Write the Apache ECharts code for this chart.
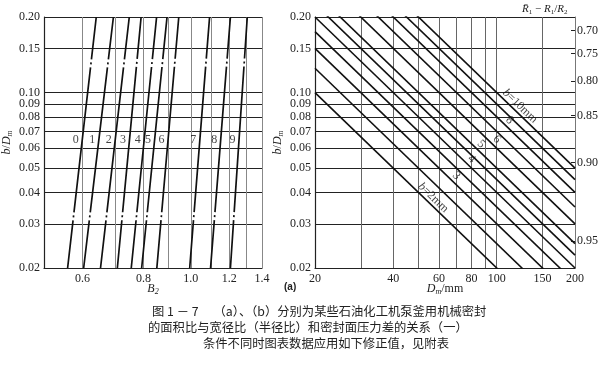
<!DOCTYPE html>
<html><head><meta charset="utf-8">
<script src="https://cdn.jsdelivr.net/npm/echarts@6/dist/echarts.min.js"></script>
<style>html,body{margin:0;padding:0;background:#fff}#c{width:605px;height:372px}</style>
</head><body><div id="c"></div>
<script>
// ---------- data: left panel (B2 vs b/Dm) ----------
const yTicks = [0.02, 0.03, 0.04, 0.05, 0.06, 0.07, 0.08, 0.09, 0.10, 0.15, 0.20];
const leftXLabels = [0.6, 0.8, 1.0, 1.2, 1.4];
const leftXGrid = [0.5, 0.6, 0.7, 0.8, 0.9, 1.0, 1.1, 1.2, 1.3, 1.4];
const curveNames = ['0', '1', '2', '3', '4', '5', '6', '7', '8', '9'];
const curveB2AtLow = [0.559, 0.603, 0.653, 0.707, 0.755, 0.793, 0.852, 0.995, 1.098, 1.206];  // B2 at b/Dm = 0.02
const curveB2AtHigh = [0.640, 0.694, 0.748, 0.791, 0.851, 0.894, 0.945, 1.093, 1.206, 1.306]; // B2 at b/Dm = 0.20
const curveLabelLevel = 0.0647;

// ---------- data: right panel (Dm vs b/Dm) ----------
const rightXLabels = [20, 40, 60, 80, 100, 150, 200];
const rightXGrid = [20, 30, 40, 50, 60, 70, 80, 90, 100, 150, 200];
const widthsB = [2, 2.5, 3, 3.5, 4, 4.5, 5, 6, 7, 8, 9, 10];
const labelledB = [2, 3, 4, 5, 6, 8, 10];
const labelTexts = ['{i|b}=2mm', '3', '4', '5', '6', '8', '{i|b}=10mm'];
const labelDm = [57, 70, 80, 87, 100, 112, 123];
const ratioTicks = [0.70, 0.75, 0.80, 0.85, 0.90, 0.95];

// ---------- caption ----------
const captionLines = [
  '图 1 － 7　 （a）、（b）分别为某些石油化工机泵釜用机械密封',
  '的面积比与宽径比（半径比）和密封面压力差的关系（一）',
  '条件不同时图表数据应用如下修正值，见附表'
];

// ---------- build ----------
const SERIF = 'Liberation Serif';
const LIFT = 1.086;
const ratioToBD = r => (1 - r) / (1 + r);
const ratioValues = ratioTicks.map(ratioToBD);

const series = [];
curveNames.forEach((n, i) => {
  series.push({
    type: 'line', xAxisIndex: 0, yAxisIndex: 0, symbol: 'none', silent: true,
    data: [[curveB2AtLow[i], 0.02], [curveB2AtHigh[i], 0.20]],
    lineStyle: { color: '#111', width: 1.7, type: [146, 3, 2, 3], dashOffset: 98 }
  });
});
const t = Math.log10(curveLabelLevel / 0.02);
series.push({
  type: 'scatter', xAxisIndex: 0, yAxisIndex: 0, symbolSize: 1, silent: true,
  itemStyle: { color: 'transparent' },
  data: curveNames.map((n, i) => {
    const lx = Math.log10(curveB2AtLow[i]) + t * (Math.log10(curveB2AtHigh[i]) - Math.log10(curveB2AtLow[i]));
    return { value: [Math.pow(10, lx), curveLabelLevel], name: n };
  }),
  label: { show: true, position: 'left', distance: 3, formatter: p => p.name,
    fontFamily: SERIF, fontSize: 12, color: '#111' }
});
widthsB.forEach(b => {
  series.push({
    type: 'line', xAxisIndex: 1, yAxisIndex: 1, symbol: 'none', silent: true,
    data: [[20, b / 20], [200, b / 200]],
    lineStyle: { color: '#111', width: 1.6 }
  });
});
series.push({
  type: 'scatter', xAxisIndex: 1, yAxisIndex: 1, symbolSize: 1, silent: true,
  itemStyle: { color: 'transparent' },
  data: labelledB.map((b, i) => ({ value: [labelDm[i], b / labelDm[i] * LIFT], name: labelTexts[i] })),
  label: { show: true, position: 'inside', rotate: -44, formatter: p => p.name,
    fontFamily: SERIF, fontSize: 12, color: '#111',
    rich: { i: { fontFamily: SERIF, fontSize: 12, fontStyle: 'italic', color: '#111' } } }
});

const axisLabelStyle = { fontFamily: SERIF, fontSize: 12, color: '#222' };
const nameRich = {
  i: { fontFamily: SERIF, fontSize: 12, fontStyle: 'italic', color: '#222' },
  n: { fontFamily: SERIF, fontSize: 12, color: '#222' },
  s: { fontFamily: SERIF, fontSize: 8, fontStyle: 'italic', color: '#222', verticalAlign: 'bottom', padding: [6, 0, 0, 0] }
};

const option = {
  backgroundColor: '#fff',
  animation: false,
  grid: [
    { left: 42, top: 17, width: 220, height: 251 },
    { left: 315, top: 17, width: 260, height: 251 }
  ],
  xAxis: [
    { gridIndex: 0, type: 'log', min: 0.5, max: 1.4,
      axisLine: { show: true, lineStyle: { color: '#222', width: 1.2 } },
      axisTick: { show: false, customValues: leftXGrid },
      axisLabel: Object.assign({ customValues: leftXLabels, margin: 5, formatter: v => v.toFixed(1) }, axisLabelStyle),
      splitLine: { show: true, lineStyle: { color: '#888', width: 1 } },
      name: '{i|B}{s|2}', nameLocation: 'middle', nameGap: 14, nameMoveOverlap: false,
      nameTextStyle: { rich: nameRich } },
    { gridIndex: 1, type: 'log', min: 20, max: 200,
      axisLine: { show: true, lineStyle: { color: '#222', width: 1.2 } },
      axisTick: { show: false, customValues: rightXGrid },
      axisLabel: Object.assign({ customValues: rightXLabels, margin: 5 }, axisLabelStyle),
      splitLine: { show: true, lineStyle: { color: '#666', width: 1 } },
      name: '{i|D}{s|m}{n|/mm}', nameLocation: 'middle', nameGap: 14, nameMoveOverlap: false,
      nameTextStyle: { rich: nameRich } }
  ],
  yAxis: [
    { gridIndex: 0, type: 'log', min: 0.02, max: 0.2,
      axisLine: { show: true, lineStyle: { color: '#222', width: 1.2 } },
      axisTick: { show: false, customValues: yTicks },
      axisLabel: Object.assign({ customValues: yTicks, margin: 4, formatter: v => v.toFixed(2) }, axisLabelStyle),
      splitLine: { show: true, lineStyle: { color: '#222', width: 1.2 } },
      name: '{i|b}{n|/}{i|D}{s|m}', nameLocation: 'middle', nameGap: 30, nameRotate: 90,
      nameTextStyle: { rich: nameRich } },
    { gridIndex: 1, type: 'log', min: 0.02, max: 0.2,
      axisLine: { show: true, lineStyle: { color: '#222', width: 1.2 } },
      axisTick: { show: false, customValues: yTicks },
      axisLabel: Object.assign({ customValues: yTicks, margin: 4, formatter: v => v.toFixed(2) }, axisLabelStyle),
      splitLine: { show: true, lineStyle: { color: '#222', width: 1.2 } },
      name: '{i|b}{n|/}{i|D}{s|m}', nameLocation: 'middle', nameGap: 30, nameRotate: 90,
      nameTextStyle: { rich: nameRich } },
    { gridIndex: 1, type: 'log', min: 0.02, max: 0.2, position: 'right',
      axisLine: { show: true, lineStyle: { color: '#777', width: 1 } },
      axisTick: { show: true, inside: true, length: 4, customValues: ratioValues, lineStyle: { color: '#222' } },
      axisLabel: Object.assign({ customValues: ratioValues, margin: 2,
        formatter: v => ((1 - v) / (1 + v)).toFixed(2) }, axisLabelStyle),
      splitLine: { show: false } }
  ],
  graphic: [
    { type: 'text', left: 522, top: 4, style: {
      text: '{o|R̄}{s|1}{n| − }{i|R}{s|1}{n|/}{i|R}{s|2}',
      rich: {
        o: { fontFamily: SERIF, fontSize: 11, fontStyle: 'italic', fill: '#222' },
        i: { fontFamily: SERIF, fontSize: 11, fontStyle: 'italic', fill: '#222' },
        n: { fontFamily: SERIF, fontSize: 11, fill: '#222' },
        s: { fontFamily: SERIF, fontSize: 7, fill: '#222', verticalAlign: 'bottom', padding: [5, 0, 0, 0] }
      } } },
    { type: 'text', left: 284, top: 282, style: { text: '(a)', font: 'bold 10px "Liberation Sans"', fill: '#222' } },
    { type: 'text', left: 152, top: 305, style: { text: captionLines[0], font: '12.3px "Noto Sans CJK SC"', fill: '#222' } },
    { type: 'text', left: 148, top: 321, style: { text: captionLines[1], font: '12.3px "Noto Sans CJK SC"', fill: '#222' } },
    { type: 'text', left: 203, top: 337, style: { text: captionLines[2], font: '12.3px "Noto Sans CJK SC"', fill: '#222' } }
  ],
  series: series
};
echarts.init(document.getElementById('c'), null, { renderer: 'canvas' }).setOption(option);
</script>
</body></html>
